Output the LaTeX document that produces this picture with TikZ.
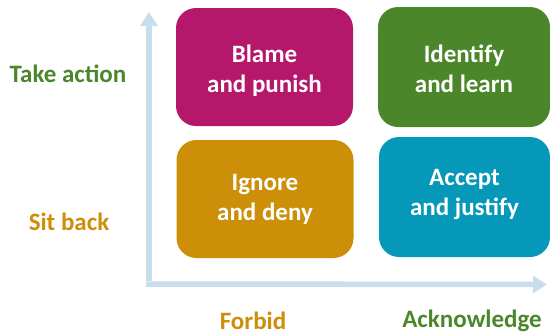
\documentclass[tikz,border=0pt]{standalone}
\usepackage{fontspec}
\setmainfont{Carlito}
\usepackage{tikz}
\tikzset{
  every node/.style = {
    inner sep = 0pt,
    outer sep = 0pt
  }
}
\usetikzlibrary{
arrows.meta
}
\definecolor{blamecol}{HTML}{B5176A}
\definecolor{learncol}{HTML}{4B872A}
\definecolor{denycol}{HTML}{CC8F07}
\definecolor{justifycol}{HTML}{0598B9}
\definecolor{axiscol}{HTML}{C8DEEA}

\begin{document}
\begin{tikzpicture}[
      x = 1pt,
      y = -1pt,
      quadrant/.style={
        rounded corners = 20pt,
      },
      quadrant text/.style={
        text = white,
        align = center,
        font = \fontsize{25}{30}\selectfont\bfseries,
      },
      axis label/.style={
        font = \fontsize{25}{28}\selectfont\bfseries,
      },
      axis/.style={
        axiscol,
        line width = 5.5pt,
        -{Triangle[width=17pt,length=14pt]},
      },
      ]
      \useasboundingbox (0,0) rectangle (550,335);
      % the four quadrants
      \node [quadrant, fill=blamecol, minimum width=177pt, minimum height=118pt,
        name=node-blame] at (264.5,67) {};
      \node [quadrant, fill=learncol, minimum width=172pt, minimum height=120pt,
        name=node-learn] at (464,67) {};
      \node [quadrant, fill=denycol, minimum width=177pt, minimum height=118pt,
        name=node-deny] at (265,199) {};
      \node [quadrant, fill=justifycol, minimum width=171pt, minimum height=120pt,
        name=node-justify] at (464.5,197) {};
      \node [quadrant text, name=node-blame-text] at ([yshift=-4pt]node-blame)
        {Blame\\and punish};
      \node [quadrant text, name=node-learn-text] at ([yshift=-2pt]node-learn)
        {Identify\\and learn};
      \node [quadrant text, name=node-deny-text] at (node-deny)
        {Ignore\\and deny};
      \node [quadrant text, name=node-justify-text] at ([yshift=2pt]node-justify)
        {Accept\\and justify};
      % axes
      \coordinate (node-origin) at (149,284);
      \coordinate (node-ytip) at (149,12);
      \coordinate (node-xtip) at (547,284.5);
      \draw [axis] ([yshift=2.75pt]node-origin) -- (node-ytip);
      \draw [axis] ([xshift=-2.75pt]node-origin) -- (node-xtip);
      % axis labels
      \node [axis label, text=learncol, name=node-action] at (68,74) {Take action};
      \node [axis label, text=denycol, name=node-back] at (69,222) {Sit back};
      \node [axis label, text=denycol, name=node-forbid] at (253,321) {Forbid};
      \node [axis label, text=learncol, name=node-acknowledge] at (472,321) {Acknowledge};
    \end{tikzpicture}
\end{document}
